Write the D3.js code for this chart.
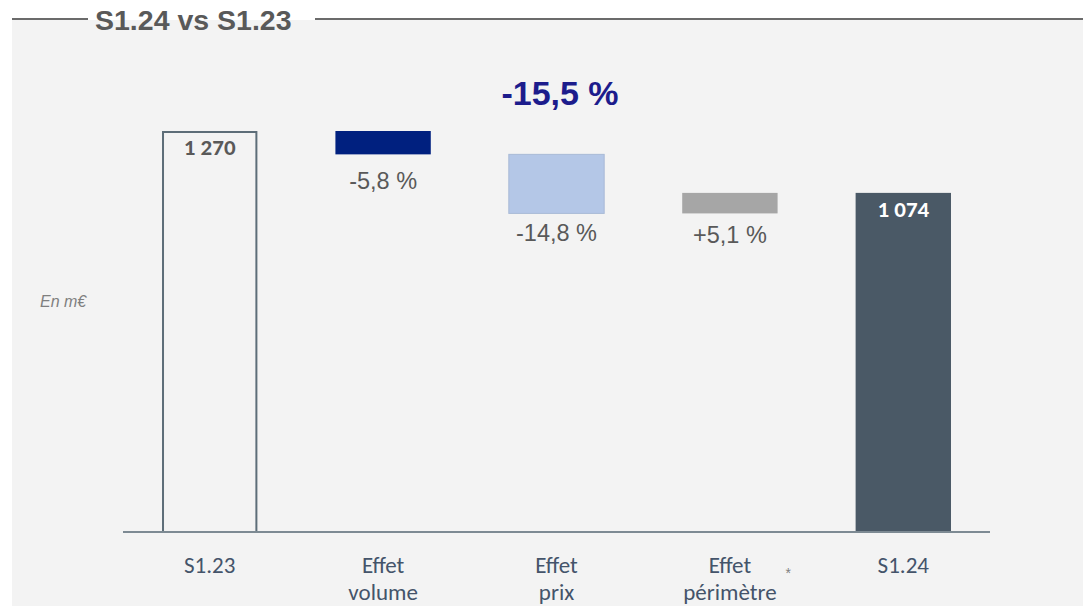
<!DOCTYPE html>
<html><head><meta charset="utf-8">
<script src="https://cdn.jsdelivr.net/npm/d3@7"></script>
<style>
html,body{margin:0;padding:0;background:#fff;}
svg{display:block;}
</style></head>
<body>
<svg id="c" width="1083" height="606"></svg>
<script>
// ---- data ----
const categories = ["S1.23", "Effet volume", "Effet prix", "Effet périmètre", "S1.24"];
const labelLines = [["S1.23"], ["Effet", "volume"], ["Effet", "prix"], ["Effet", "périmètre"], ["S1.24"]];
const deltas = [1270, -74, -187, 65, null]; // first = start total, last = computed total
const pctLabels = [null, "-5,8 %", "-14,8 %", "+5,1 %", null];
const valueLabels = ["1 270", null, null, null, "1 074"];
const totalChange = "-15,5 %";
const title = "S1.24 vs S1.23";
const unitLabel = "En m€";

// layout constants
const pctOffsets = [0, 35, 28, 30, 0];

// build waterfall segments
let running = 0;
const segs = categories.map((c, i) => {
  if (i === 0) { running = deltas[0]; return {c, y0: 0, y1: running, kind: "start"}; }
  if (i === categories.length - 1) return {c, y0: 0, y1: running, kind: "end"};
  const s = running; running += deltas[i];
  return {c, y0: Math.min(s, running), y1: Math.max(s, running), kind: "delta", i};
});
const fills = ["#f3f3f3", "#00207f", "#b4c7e7", "#a6a6a6", "#4a5966"];
const strokes = ["#5d6d78", "none", "#a9bad6", "none", "none"];

const svg = d3.select("#c");
// panel
svg.append("rect").attr("x", 12).attr("y", 20).attr("width", 1071).attr("height", 586).attr("fill", "#f3f3f3");
// title lines
svg.append("line").attr("x1", 12).attr("x2", 88).attr("y1", 19).attr("y2", 19).attr("stroke", "#6b6b6b").attr("stroke-width", 2);
svg.append("line").attr("x1", 315).attr("x2", 1083).attr("y1", 19).attr("y2", 19).attr("stroke", "#6b6b6b").attr("stroke-width", 2);
svg.append("text").attr("x", 95).attr("y", 30).text(title)
  .attr("font-family", "Liberation Sans, Arial, sans-serif").attr("font-weight", "bold")
  .attr("font-size", 28.5).attr("fill", "#595959");

const x = d3.scaleBand().domain(categories).range([123, 990]).paddingInner(0.45).paddingOuter(0.225);
const y = d3.scaleLinear().domain([0, 1270]).range([532, 131]);

// unit label
svg.append("text").attr("x", 40).attr("y", 307).text(unitLabel)
  .attr("font-family", "Liberation Sans, Arial, sans-serif").attr("font-style", "italic")
  .attr("font-size", 16).attr("fill", "#7f7f7f");

// total change
svg.append("text").attr("x", 560).attr("y", 105).attr("text-anchor", "middle").text(totalChange)
  .attr("font-family", "Liberation Sans, Arial, sans-serif").attr("font-weight", "bold")
  .attr("font-size", 34).attr("fill", "#1c1c8c");

// bars
svg.selectAll("rect.bar").data(segs).enter().append("rect").attr("class", "bar")
  .attr("x", d => x(d.c) + (d.kind === "start" ? 1 : 0))
  .attr("width", d => x.bandwidth() - (d.kind === "start" ? 2 : 0))
  .attr("y", d => y(d.y1) + (d.kind === "start" ? 1 : 0))
  .attr("height", d => y(d.y0) - y(d.y1) - (d.kind === "start" ? 1 : 0))
  .attr("fill", (d, i) => fills[i])
  .attr("stroke", (d, i) => strokes[i])
  .attr("stroke-width", (d, i) => i === 0 ? 2 : 1);

// axis baseline
const axis = svg.append("g").attr("transform", "translate(0,532)")
  .call(d3.axisBottom(x).tickSize(0).tickFormat(""));
axis.select(".domain").attr("stroke", "#7d8a93").attr("stroke-width", 2)
  .attr("d", "M123,0H990");

// category labels
const catG = svg.append("g");
categories.forEach((c, i) => {
  const t = catG.append("text").attr("x", x(c) + x.bandwidth() / 2).attr("y", 573)
    .attr("text-anchor", "middle").attr("font-family", "Carlito, Lato, sans-serif")
    .attr("font-size", 23).attr("fill", "#44546a");
  labelLines[i].forEach((l, j) => {
    t.append("tspan").attr("x", x(c) + x.bandwidth() / 2).attr("dy", j === 0 ? 0 : 27).text(l);
  });
});
// asterisk
svg.append("text").attr("x", x("Effet périmètre") + x.bandwidth() + 8).attr("y", 578).text("*")
  .attr("font-family", "Liberation Sans, Arial, sans-serif").attr("font-size", 14).attr("fill", "#7f7f7f");

// percent labels
segs.forEach((d, i) => {
  if (!pctLabels[i]) return;
  svg.append("text").attr("x", x(d.c) + x.bandwidth() / 2).attr("y", y(d.y0) + pctOffsets[i])
    .attr("text-anchor", "middle").text(pctLabels[i])
    .attr("font-family", "Liberation Sans, Arial, sans-serif").attr("font-size", 23.5).attr("fill", "#595959");
});

// value labels
segs.forEach((d, i) => {
  if (!valueLabels[i]) return;
  svg.append("text").attr("x", x(d.c) + x.bandwidth() / 2).attr("y", y(d.y1) + 24)
    .attr("text-anchor", "middle").text(valueLabels[i])
    .attr("font-family", "Carlito, Lato, sans-serif").attr("font-weight", "bold")
    .attr("font-size", 23).attr("fill", i === 0 ? "#595959" : "#ffffff");
});
</script>
</body></html>
